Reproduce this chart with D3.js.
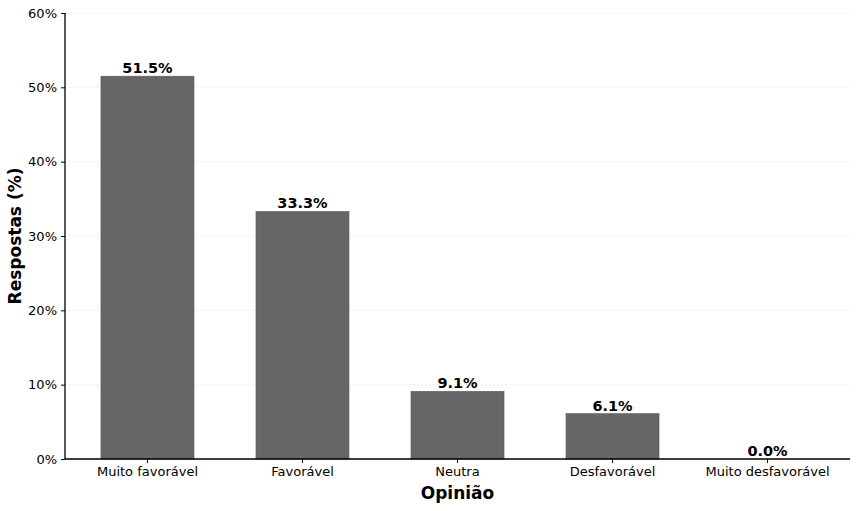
<!DOCTYPE html>
<html><head><meta charset="utf-8">
<script src="https://cdn.jsdelivr.net/npm/d3@7"></script>
<style>body{margin:0;background:#fff}svg{display:block;font-family:"DejaVu Sans",sans-serif}</style>
</head><body><svg id="c" width="858" height="511"></svg>
<script>
const categories = ["Muito favorável","Favorável","Neutra","Desfavorável","Muito desfavorável"];
const values = [51.5, 33.3, 9.1, 6.1, 0.0];
const yTicks = [0,10,20,30,40,50,60];

const svg = d3.select("#c");
const L=65, R=850, T=13, B=459;
const x = d3.scaleBand().domain(categories).range([L,R]).paddingInner(0.4).paddingOuter(0.232);
const y = d3.scaleLinear().domain([0,60]).range([B,T]);

// grid
svg.append("g").selectAll("line").data(yTicks).join("line")
  .attr("x1",L).attr("x2",R).attr("y1",d=>y(d)).attr("y2",d=>y(d))
  .attr("stroke","#e6e6e6").attr("stroke-width",0.8).attr("stroke-dasharray","2,2");

// bars
svg.append("g").selectAll("rect").data(values).join("rect")
  .attr("x",(d,i)=>x(categories[i])).attr("width",x.bandwidth())
  .attr("y",d=>y(d)).attr("height",d=>y(0)-y(d))
  .attr("fill","#666666").attr("stroke","#5a5a5a").attr("stroke-width",0.6);

// value labels
svg.append("g").selectAll("text").data(values).join("text")
  .attr("x",(d,i)=>x(categories[i])+x.bandwidth()/2).attr("y",d=>y(d)-3)
  .attr("text-anchor","middle").attr("font-size",14.5).attr("font-weight","bold").attr("fill","#000")
  .text(d=>d.toFixed(1)+"%");

// axes
const ya = svg.append("g").attr("transform",`translate(${L},0)`)
  .call(d3.axisLeft(y).tickValues(yTicks).tickFormat(d=>d+"%").tickSize(4).tickPadding(4));
const xa = svg.append("g").attr("transform",`translate(0,${B})`)
  .call(d3.axisBottom(x).tickSize(4).tickPadding(4));
[ya,xa].forEach(g=>{
  g.select(".domain").attr("stroke","#000").attr("stroke-width",1.3);
  g.selectAll(".tick line").attr("stroke","#000").attr("stroke-width",1);
  g.selectAll(".tick text").attr("font-size",13).attr("fill","#000").attr("font-family","DejaVu Sans, sans-serif");
});
ya.select(".domain").attr("d",`M0,${B}V${T}`);
xa.select(".domain").attr("d",`M${L},0H${R}`);

svg.append("text").attr("x",(L+R)/2).attr("y",499).attr("text-anchor","middle")
  .attr("font-size",17).attr("font-weight","bold").text("Opinião");
svg.append("text").attr("transform",`translate(21,${(T+B)/2}) rotate(-90)`).attr("text-anchor","middle")
  .attr("font-size",17).attr("font-weight","bold").text("Respostas (%)");
</script></body></html>
